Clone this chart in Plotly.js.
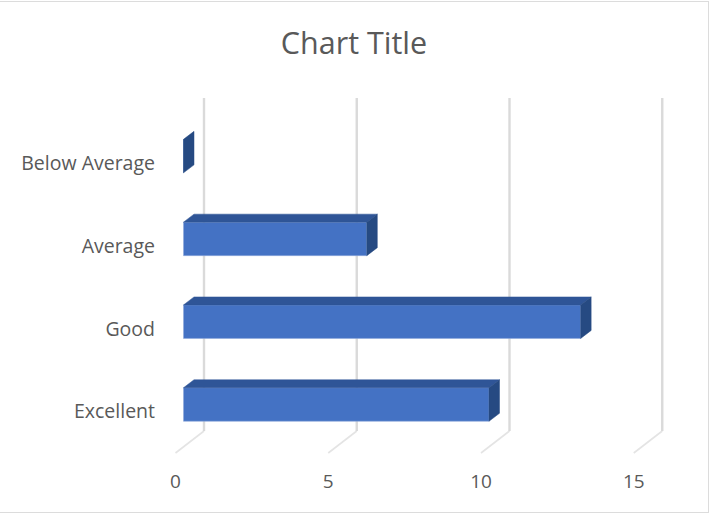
<!DOCTYPE html>
<html>
<head>
<meta charset="utf-8">
<script src="https://cdn.plot.ly/plotly-3.0.1.min.js"></script>
<style>
html,body{margin:0;padding:0;background:#fff;overflow:hidden}
#wrap{position:relative;width:711px;height:513px}
#chart{width:711px;height:513px}
#frame{position:absolute;left:0;top:1px;width:708px;height:510px;border:1.5px solid #dcdcdc;border-left:none;pointer-events:none}
</style>
</head>
<body>
<div id="wrap"><div id="chart"></div><div id="frame"></div></div>
<script>
const categories = ['Excellent', 'Good', 'Average', 'Below Average'];
const values = [10, 13, 6, 0];
const tickValues = [0, 5, 10, 15];

const W = 711, H = 513;
const plot = {l: 160, r: 680, t: 90, b: 462};
const pxX = 30.55, pxY = 82.8;
const zeroX = 175.5, zeroY = 411.5;

const frontX = 8 / pxX, depthX = 10.5 / pxX, depthY = 8 / pxY;
const frontY = 7 / pxY, barH = 33.5 / pxY;
const wallX = 28.5 / pxX, floorFront = -41.5 / pxY, floorBack = -19.5 / pxY, wallTop = 313.5 / pxY;

const positions = categories.map((c, i) => i);

function poly(xs, ys, color) {
  return {type: 'scatter', mode: 'lines', x: xs.concat(xs[0]), y: ys.concat(ys[0]),
    fill: 'toself', fillcolor: color, line: {color: color, width: 0.5},
    hoverinfo: 'skip', showlegend: false};
}

const traces = [];
traces.push({
  type: 'bar', orientation: 'h', y: positions.map(p => p + frontY), x: values,
  base: values.map(() => frontX), width: barH,
  marker: {color: '#4472C4', line: {color: '#8FAADC', width: 0.6}},
  showlegend: false, name: 'Series1'
});
values.forEach((v, i) => {
  const x0 = frontX, x1 = frontX + v;
  const top = i + frontY + barH / 2, bot = i + frontY - barH / 2;
  if (v > 0) traces.push(poly([x0, x1, x1 + depthX, x0 + depthX], [top, top, top + depthY, top + depthY], '#2F5597'));
  traces.push(poly([x1, x1 + depthX, x1 + depthX, x1], [bot, bot + depthY, top + depthY, top], '#264A82'));
});

const shapes = [];
tickValues.forEach(t => {
  shapes.push({type: 'line', layer: 'below', xref: 'x', yref: 'y',
    x0: t, y0: floorFront, x1: t + wallX, y1: floorBack,
    line: {color: '#E4E4E4', width: 1.6}});
  shapes.push({type: 'line', layer: 'below', xref: 'x', yref: 'y',
    x0: t + wallX, y0: floorBack, x1: t + wallX, y1: wallTop,
    line: {color: '#DADADA', width: 2.4}});
});

const layout = {
  width: W, height: H,
  margin: {l: plot.l, r: W - plot.r, t: plot.t, b: H - plot.b, pad: 0},
  paper_bgcolor: '#fff', plot_bgcolor: '#fff',
  showlegend: false,
  title: {text: 'Chart Title', x: 354 / W, xanchor: 'center', y: 1 - 43 / H, yanchor: 'middle',
    font: {family: 'Open Sans', size: 30.5, color: '#595959'}},
  font: {family: 'Open Sans', size: 19, color: '#595959'},
  xaxis: {range: [(plot.l - zeroX) / pxX, (plot.r - zeroX) / pxX], tickmode: 'array', tickvals: tickValues,
    ticktext: tickValues.map(String), showgrid: false, zeroline: false, showline: false, ticks: '', ticklen: 0,
    ticklabelstandoff: 6,
    tickfont: {family: 'Open Sans', size: 19, color: '#595959'}},
  yaxis: {range: [(zeroY - plot.b) / pxY, (zeroY - plot.t) / pxY], tickmode: 'array', tickvals: positions,
    ticktext: categories, showgrid: false, zeroline: false, showline: false, ticks: '', ticklen: 0,
    ticklabelstandoff: 4,
    tickfont: {family: 'Open Sans', size: 19.5, color: '#595959'}},
  shapes: shapes,
  bargap: 0
};
Plotly.newPlot('chart', traces, layout, {displayModeBar: false, staticPlot: true});
</script>
</body>
</html>
